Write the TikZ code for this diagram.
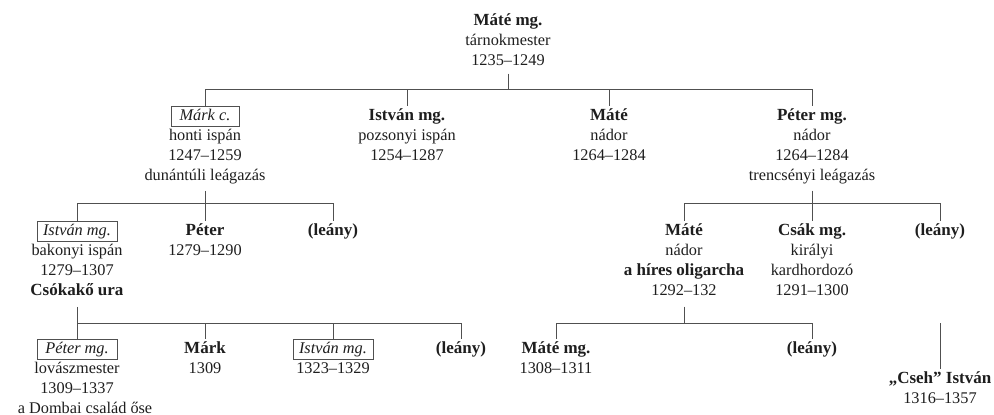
\documentclass[tikz,border=0pt]{standalone}
\usepackage{fontspec}
\setmainfont{Liberation Serif}
\definecolor{txt}{HTML}{1E1E1E}
\definecolor{lnc}{HTML}{505050}
\begin{document}
\begin{tikzpicture}[x=1pt,y=-1pt,
  every node/.style={font=\fontsize{16.3}{20}\selectfont, text=txt},
  nm/.style={inner ysep=0pt, inner xsep=6pt, anchor=base, font=\fontsize{17}{20}\selectfont\bfseries},
  bx/.style={nm, font=\fontsize{16.3}{20}\selectfont\itshape, draw=lnc, line width=0.8pt, minimum width=80pt},
  info/.style={anchor=north, inner sep=0pt, align=center},
  conn/.style={draw=lnc, line width=0.9pt}]
\fill[white] (0,0) rectangle (994,415);
\useasboundingbox (0,0) rectangle (994,415);
% level 0
\node[nm] (top) at (508,25) {\strut Máté mg.};
\node[info] (topi) at (top.south) {\strut tárnokmester\\\strut 1235–1249};
% level 1
\node[bx, minimum width=68pt] (markc) at (205,120) {\strut Márk c.};
\node[info] (markci) at (markc.south) {\strut honti ispán\\\strut 1247–1259\\\strut dunántúli leágazás};
\node[nm] (istv1) at (407,120) {\strut István mg.};
\node[info] (istv1i) at (istv1.south) {\strut pozsonyi ispán\\\strut 1254–1287};
\node[nm] (mate1) at (609,120) {\strut Máté};
\node[info] (mate1i) at (mate1.south) {\strut nádor\\\strut 1264–1284};
\node[nm] (peter1) at (812,120) {\strut Péter mg.};
\node[info] (peter1i) at (peter1.south) {\strut nádor\\\strut 1264–1284\\\strut trencsényi leágazás};
% level 2 left
\node[bx] (istv2) at (77,235) {\strut István mg.};
\node[info] (istv2i) at (istv2.south) {\strut bakonyi ispán\\\strut 1279–1307\\\strut{\fontsize{17}{20}\selectfont\bfseries Csókakő ura}};
\node[nm] (peter2) at (205,235) {\strut Péter};
\node[info] (peter2i) at (peter2.south) {\strut 1279–1290};
\node[nm] (leany2l) at (333,235) {\strut (leány)};
% level 2 right
\node[nm] (mate2) at (684,235) {\strut Máté};
\node[info] (mate2i) at (mate2.south) {\strut nádor\\\strut{\fontsize{17}{20}\selectfont\bfseries a híres oligarcha}\\\strut 1292–132};
\node[nm] (csak) at (812,235) {\strut Csák mg.};
\node[info] (csaki) at (csak.south) {\strut királyi\\\strut kardhordozó\\\strut 1291–1300};
\node[nm] (leany2r) at (940,235) {\strut (leány)};
% level 3 left
\node[bx] (peter3) at (77,353) {\strut Péter mg.};
\node[info] (peter3i) at (peter3.south) {\strut lovászmester\\\strut 1309–1337};
\node[anchor=base, inner sep=0pt] (dombai) at (85,413) {a Dombai család őse};
\node[nm] (mark3) at (205,353) {\strut Márk};
\node[info] (mark3i) at (mark3.south) {\strut 1309};
\node[bx] (istv3) at (333,353) {\strut István mg.};
\node[info] (istv3i) at (istv3.south) {\strut 1323–1329};
\node[nm] (leany3) at (461,353) {\strut (leány)};
% level 3 right
\node[nm] (mate3) at (556,353) {\strut Máté mg.};
\node[info] (mate3i) at (mate3.south) {\strut 1308–1311};
\node[nm] (leany3r) at (812,353) {\strut (leány)};
\node[nm] (cseh) at (940,383) {\strut „Cseh” István};
\node[info] (csehi) at (cseh.south) {\strut 1316–1357};
% bar coordinates
\coordinate (b1) at (508,89);
\coordinate (b2l) at (205,203);
\coordinate (b2r) at (812,203);
\coordinate (b3l) at (77,323);
\coordinate (b3r) at (684,323);
\coordinate (cs) at (940,323);
% connectors
\draw[conn, shorten <=2pt] (topi.south) -- (b1);
\draw[conn] (markc.north) |- (peter1.north |- b1) -- (peter1.north);
\draw[conn] (istv1.north) -- (istv1.north |- b1);
\draw[conn] (mate1.north) -- (mate1.north |- b1);
\draw[conn, shorten <=4pt] (markci.south) -- (b2l);
\draw[conn] (istv2.north) |- (leany2l.north |- b2l) -- (leany2l.north);
\draw[conn] (peter2.north) -- (peter2.north |- b2l);
\draw[conn, shorten <=4pt] (peter1i.south) -- (b2r);
\draw[conn] (mate2.north) |- (leany2r.north |- b2r) -- (leany2r.north);
\draw[conn] (csak.north) -- (csak.north |- b2r);
\draw[conn, shorten <=5pt] (istv2i.south) -- (b3l);
\draw[conn] (peter3.north) |- (leany3.north |- b3l) -- (leany3.north);
\draw[conn] (mark3.north) -- (mark3.north |- b3l);
\draw[conn] (istv3.north) -- (istv3.north |- b3l);
\draw[conn, shorten <=5pt] (mate2i.south) -- (b3r);
\draw[conn] (mate3.north) |- (leany3r.north |- b3r) -- (leany3r.north);
\draw[conn] (cs) -- (cseh.north);
\end{tikzpicture}
\end{document}
